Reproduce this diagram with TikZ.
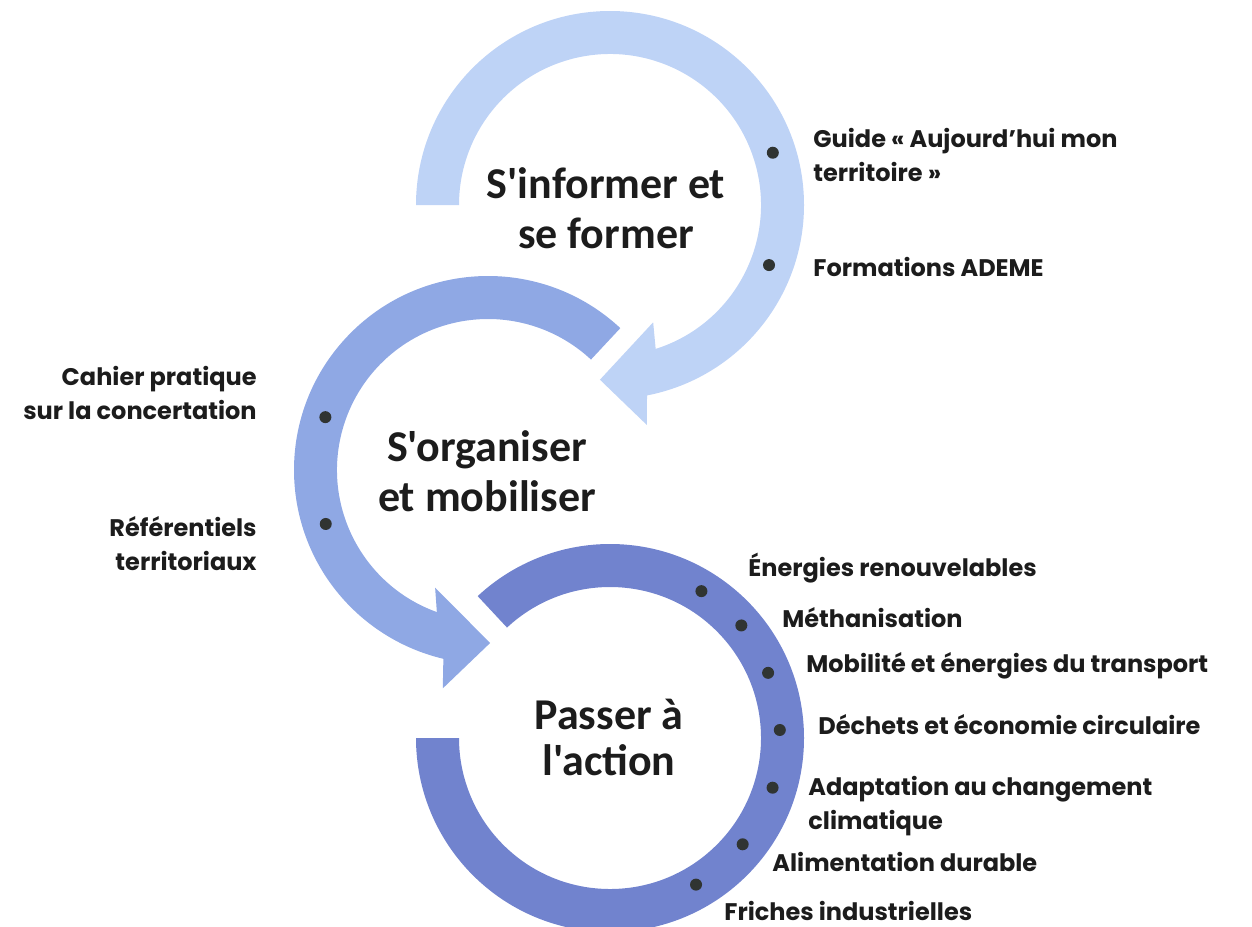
\documentclass[tikz,border=0pt]{standalone}
\usepackage{fontspec}
\setmainfont{Carlito}[Ligatures=TeXOff]
\newfontfamily\itemfont{Poppins}[Ligatures=NoCommon]
\usepackage{tikz}
\usetikzlibrary{positioning}
\definecolor{ringlight}{RGB}{190,211,246}
\definecolor{ringmid}{RGB}{143,168,228}
\definecolor{ringdark}{RGB}{113,131,206}
\definecolor{textdark}{RGB}{28,28,28}
\definecolor{dotgray}{RGB}{48,52,50}
\tikzstyle{steplabel} = [align=center, text=textdark, font=\fontsize{22}{25}\selectfont\bfseries, inner sep=0pt]
\tikzstyle{itemlabel} = [text=textdark, font=\itemfont\fontsize{12}{17}\selectfont\bfseries, inner sep=0pt]
\tikzstyle{bullet} = [circle, fill=dotgray, minimum size=6pt, inner sep=0pt]

\begin{document}
\begin{tikzpicture}[x=0.5pt, y=0.5pt]
\useasboundingbox (0,0) rectangle (1252,-926);

% Rings
\begin{scope}[shift={(610,-738)}]
\fill[ringdark] (180:194) arc[start angle=180, end angle=493, radius=194] -- (493:151) arc[start angle=493, end angle=180, radius=151] -- cycle;
\end{scope}
\begin{scope}[shift={(488,-470)}]
\fill[ringmid] (47:194) arc[start angle=47, end angle=256.7, radius=194] -- (258.3:223) -- (270.7:173) -- (245.8:129) -- (250.2:151) arc[start angle=250.2, end angle=47, radius=151] -- cycle;
\end{scope}
\begin{scope}[shift={(610,-205)}]
\fill[ringlight] (180:194) arc[start angle=180, end angle=-79, radius=194] -- (-80.5:223) -- (-93.3:175) -- (-69.8:125) -- (-72.4:151) arc[start angle=-72.4, end angle=180, radius=151] -- cycle;
\end{scope}

% Steps
\node[steplabel] (inform) at (606,-208) {S'informer et\\se former};
\node[steplabel] (organise) at (487,-471) {S'organiser\\et mobiliser};
\node[steplabel, font=\fontsize{22}{23}\selectfont\bfseries] (action) at (609,-737) {Passer à\\l'action};

% Dots
\begin{scope}[shift={(610,-205)}]
\node[bullet] (dguide) at (17.8:171) {};
\node[bullet] (dformation) at (-20.7:170) {};
\end{scope}
\begin{scope}[shift={(488,-470)}]
\node[bullet] (dcahier) at (162:171) {};
\node[bullet] (dreferentiel) at (198.4:171) {};
\end{scope}
\begin{scope}[shift={(610,-738)}]
\node[bullet] (denergie) at (58.1:173) {};
\node[bullet] (dmethan) at (40.6:173) {};
\node[bullet] (dmobilite) at (22.4:171) {};
\node[bullet] (ddechet) at (2.7:170) {};
\node[bullet] (dadapt) at (-17:170) {};
\node[bullet] (daliment) at (-38.7:170) {};
\node[bullet] (dfriche) at (-59.6:170) {};
\end{scope}

% Labels
\node[itemlabel, anchor=west, align=left] (guide) at (813,-155) {Guide « Aujourd’hui mon\\territoire »};
\node[itemlabel, anchor=west] (formation) at (813,-267) {Formations ADEME};
\node[itemlabel, anchor=east, align=right] (cahier) at (257,-393) {Cahier pratique\\sur la concertation};
\node[itemlabel, anchor=east, align=right] (referentiel) at (257,-544) {Référentiels\\territoriaux};
\node[itemlabel, anchor=west] (energie) at (748,-568) {Énergies renouvelables};
\node[itemlabel, anchor=west] (methan) at (782,-618) {Méthanisation};
\node[itemlabel, anchor=west] (mobilite) at (806,-666) {Mobilité et énergies du transport};
\node[itemlabel, anchor=west] (dechet) at (818,-725) {Déchets et économie circulaire};
\node[itemlabel, anchor=west, align=left] (adapt) at (808,-806) {Adaptation au changement\\climatique};
\node[itemlabel, anchor=west] (aliment) at (772,-862) {Alimentation durable};
\node[itemlabel, anchor=west] (friche) at (724,-911) {Friches industrielles};
\end{tikzpicture}
\end{document}
